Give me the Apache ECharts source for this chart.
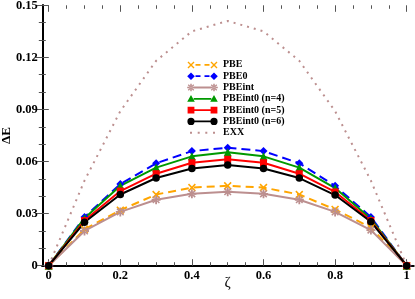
<!DOCTYPE html>
<html><head><meta charset="utf-8">
<script src="https://cdn.jsdelivr.net/npm/echarts@6/dist/echarts.min.js"></script>
<style>html,body{margin:0;padding:0;background:#fff}#c{width:415px;height:299px}</style>
</head><body><div id="c"></div>
<script>
const zeta = [0, 0.1, 0.2, 0.3, 0.4, 0.5, 0.6, 0.7, 0.8, 0.9, 1];
const PBE = [0, 0.021, 0.032, 0.041, 0.045, 0.046, 0.045, 0.041, 0.0324, 0.022, 0];
const PBE0 = [0, 0.028, 0.047, 0.059, 0.066, 0.068, 0.066, 0.059, 0.046, 0.028, 0];
const PBEint = [0, 0.020, 0.031, 0.038, 0.0414, 0.0426, 0.0414, 0.038, 0.031, 0.0205, 0];
const PBEint0_n4 = [0, 0.0274, 0.046, 0.0565, 0.063, 0.0653, 0.063, 0.0565, 0.0447, 0.027, 0];
const PBEint0_n5 = [0, 0.026, 0.043, 0.053, 0.0593, 0.0613, 0.0593, 0.053, 0.0425, 0.026, 0];
const PBEint0_n6 = [0, 0.025, 0.041, 0.0505, 0.056, 0.058, 0.056, 0.0505, 0.0407, 0.0253, 0];
const EXX = [0, 0.049, 0.089, 0.118, 0.135, 0.141, 0.135, 0.118, 0.089, 0.049, 0];
const xTickLabels = ['0', '0.2', '0.4', '0.6', '0.8', '1'];
const yTickLabels = ['0', '0.03', '0.06', '0.09', '0.12', '0.15'];

const pairs = arr => zeta.map((z, i) => [z, arr[i]]);
const FONT = 'Liberation Serif';
const TICK = '#555';

// marker shape generators (path strings, centred at cx,cy, half-size r)
function xPath(cx, cy, r) {
  const t = r * 0.28;
  return `M${cx-r},${cy-r+t}L${cx-r+t},${cy-r}L${cx},${cy-t}L${cx+r-t},${cy-r}L${cx+r},${cy-r+t}L${cx+t},${cy}` +
    `L${cx+r},${cy+r-t}L${cx+r-t},${cy+r}L${cx},${cy+t}L${cx-r+t},${cy+r}L${cx-r},${cy+r-t}L${cx-t},${cy}Z`;
}
function starPath(cx, cy, r) {
  const w = r * 0.2;
  return xPath(cx, cy, r * 0.85) + `M${cx-w},${cy-r}L${cx+w},${cy-r}L${cx+w},${cy+r}L${cx-w},${cy+r}Z` +
    `M${cx-r},${cy-w}L${cx-r},${cy+w}L${cx+r},${cy+w}L${cx+r},${cy-w}Z`;
}
function diamondPath(cx, cy, r) { return `M${cx},${cy-r}L${cx+r},${cy}L${cx},${cy+r}L${cx-r},${cy}Z`; }
function triPath(cx, cy, r) { return `M${cx},${cy-r}L${cx+r},${cy+r*0.8}L${cx-r},${cy+r*0.8}Z`; }
function rectPath(cx, cy, r) { return `M${cx-r},${cy-r}L${cx-r},${cy+r}L${cx+r},${cy+r}L${cx+r},${cy-r}Z`; }
function circPath(cx, cy, r) { return `M${cx-r},${cy}A${r},${r},0,1,0,${cx+r},${cy}A${r},${r},0,1,0,${cx-r},${cy}Z`; }
function seg(x0, x1) { return `M${x0},3.1L${x0},4.9L${x1},4.9L${x1},3.1Z`; }
const BOX = 'M0,0L0,0.01L0.01,0Z M31,8L31,7.99L30.99,8Z';
// legend icon: markers at both ends, solid or dashed line between
function legendIcon(mk, r, dashed) {
  let p = mk(4, 4, r) + mk(27, 4, r);
  if (dashed) p += seg(8.5, 13.5) + seg(17.5, 22.5);
  else p += seg(4 + r * 0.7, 27 - r * 0.7);
  return 'path://' + p + BOX;
}
const exxIcon = 'path://' + [4, 11.7, 19.3, 27].map(x => rectPath(x, 4, 1)).join('') + BOX;

function ser(name, data, color, symbol, size, type) {
  return {
    name, type: 'line', data: pairs(data), xAxisIndex: 2, yAxisIndex: 2,
    symbol, symbolSize: size,
    lineStyle: { color, width: 2, type: type || 'solid' },
    itemStyle: { color, borderWidth: 0 },
    emphasis: { disabled: true }, animation: false
  };
}
const hiddenLine = { show: false };
const chart = echarts.init(document.getElementById('c'));
chart.setOption({
  animation: false,
  grid: [
    { left: 42.3, right: 1.5, top: 5.3, bottom: 33.3, outerBoundsMode: 'none', containLabel: false },
    { left: 48.7, right: 8.3, top: 5.3, bottom: 33.3, outerBoundsMode: 'none', containLabel: false }
  ],
  xAxis: [
    { gridIndex: 0, type: 'value', min: 0, max: 1, position: 'bottom',
      axisLine: { lineStyle: { color: '#000', width: 2 } }, axisTick: { show: false }, axisLabel: { show: false }, splitLine: { show: false } },
    { gridIndex: 0, type: 'value', min: 0, max: 1, position: 'top',
      axisLine: { lineStyle: { color: '#000', width: 2 } }, axisTick: { show: false }, axisLabel: { show: false }, splitLine: { show: false } },
    { gridIndex: 1, type: 'value', min: 0, max: 1, interval: 0.2, position: 'bottom',
      axisLine: hiddenLine, splitLine: { show: false },
      axisTick: { inside: true, length: 6.5, lineStyle: { color: TICK, width: 1 } },
      minorTick: { show: true, splitNumber: 4, length: 3.5, lineStyle: { color: TICK, width: 1 } },
      axisLabel: { color: '#000', fontFamily: FONT, fontWeight: 'bold', fontSize: 12.5, margin: 4,
        formatter: v => xTickLabels[Math.round(v / 0.2)] },
      name: 'ζ', nameLocation: 'middle', nameGap: 10, nameMoveOverlap: false,
      nameTextStyle: { color: '#000', fontFamily: FONT, fontSize: 15 } },
    { gridIndex: 1, type: 'value', min: 0, max: 1, interval: 0.2, position: 'top',
      axisLine: hiddenLine, splitLine: { show: false }, axisLabel: { show: false },
      axisTick: { inside: true, length: 6.5, lineStyle: { color: TICK, width: 1 } },
      minorTick: { show: true, splitNumber: 4, length: 3.5, lineStyle: { color: TICK, width: 1 } } }
  ],
  yAxis: [
    { gridIndex: 0, type: 'value', min: 0, max: 0.15, interval: 0.03, position: 'left',
      axisLine: { lineStyle: { color: '#000', width: 2 } }, splitLine: { show: false },
      axisTick: { inside: true, length: 6.5, lineStyle: { color: TICK, width: 1 } },
      minorTick: { show: true, splitNumber: 3, length: 3.5, lineStyle: { color: TICK, width: 1 } },
      axisLabel: { color: '#000', fontFamily: FONT, fontWeight: 'bold', fontSize: 12.5, margin: 4.5,
        formatter: v => yTickLabels[Math.round(v / 0.03)] },
      name: 'ΔE', nameLocation: 'middle', nameGap: 29, nameMoveOverlap: false,
      nameTextStyle: { color: '#000', fontFamily: FONT, fontWeight: 'bold', fontSize: 13 } },
    { gridIndex: 0, type: 'value', min: 0, max: 0.15, interval: 0.03, position: 'right',
      axisLine: { lineStyle: { color: '#000', width: 2 } }, splitLine: { show: false }, axisLabel: { show: false },
      axisTick: { inside: true, length: 6.5, lineStyle: { color: TICK, width: 1 } },
      minorTick: { show: true, splitNumber: 3, length: 3.5, lineStyle: { color: TICK, width: 1 } } },
    { gridIndex: 1, type: 'value', min: 0, max: 0.15, show: false }
  ],
  legend: {
    orient: 'vertical', left: 182, top: 54.5, itemWidth: 31, itemHeight: 8, itemGap: 0.5,
    textStyle: { color: '#000', fontFamily: FONT, fontWeight: 'bold', fontSize: 10, lineHeight: 10.8 },
    selectedMode: false,
    data: [
      { name: 'PBE', icon: legendIcon(xPath, 3.5, true) },
      { name: 'PBE0', icon: legendIcon(diamondPath, 3.8, true) },
      { name: 'PBEint', icon: legendIcon(starPath, 3.8, false) },
      { name: 'PBEint0 (n=4)', icon: legendIcon(triPath, 3.8, false) },
      { name: 'PBEint0 (n=5)', icon: legendIcon(rectPath, 3.4, false) },
      { name: 'PBEint0 (n=6)', icon: legendIcon(circPath, 3.6, false) },
      { name: 'EXX', icon: exxIcon }
    ]
  },
  series: [
    Object.assign(ser('EXX', EXX, '#BC8F8F', 'none', 0), { lineStyle: { color: '#BC8F8F', width: 2, type: [2, 5] } }),
    ser('PBE', PBE, '#FFA500', 'path://' + xPath(5, 5, 5), 8, [8, 5]),
    ser('PBEint', PBEint, '#BC8F8F', 'path://' + starPath(5, 5, 5), 9),
    ser('PBE0', PBE0, '#0000FF', 'diamond', 8, [9, 5]),
    ser('PBEint0 (n=4)', PBEint0_n4, '#009900', 'triangle', 8),
    ser('PBEint0 (n=5)', PBEint0_n5, '#FF0000', 'rect', 7),
    ser('PBEint0 (n=6)', PBEint0_n6, '#000000', 'circle', 7.5)
  ]
});
</script></body></html>
